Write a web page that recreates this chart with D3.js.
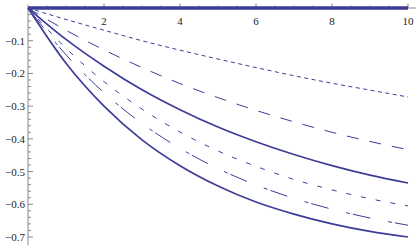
<!DOCTYPE html>
<html>
<head>
<meta charset="utf-8">
<script src="https://cdn.jsdelivr.net/npm/d3@7"></script>
<style>
  body { margin: 0; background: #fff; }
  svg { display: block; }
  text { font-family: "Liberation Serif", "DejaVu Serif", serif; font-size: 11px; fill: #222; }
</style>
</head>
<body>
<div id="chart"></div>
<script>
// donnees
const xs = [0, 1, 2, 3, 4, 5, 6, 7, 8, 9, 10];
const zeroLine = [0, 0, 0, 0, 0, 0, 0, 0, 0, 0, 0];
const shortDash = [0, -0.035, -0.068, -0.100, -0.129, -0.156, -0.182, -0.207, -0.230, -0.251, -0.272];
const longDash = [0, -0.068, -0.128, -0.182, -0.231, -0.274, -0.313, -0.348, -0.380, -0.408, -0.433];
const solidUpper = [0, -0.096, -0.178, -0.250, -0.311, -0.364, -0.409, -0.448, -0.482, -0.511, -0.535];
const dotted = [0, -0.123, -0.225, -0.309, -0.379, -0.437, -0.484, -0.524, -0.556, -0.583, -0.605];
const dashDot = [0, -0.143, -0.259, -0.353, -0.429, -0.491, -0.541, -0.582, -0.615, -0.642, -0.664];
const solidLower = [0, -0.169, -0.300, -0.403, -0.482, -0.544, -0.593, -0.630, -0.660, -0.683, -0.700];

const xMajor = [2, 4, 6, 8, 10];
const yMajor = [-0.1, -0.2, -0.3, -0.4, -0.5, -0.6, -0.7];
const yLabels = ["−0.1", "−0.2", "−0.3", "−0.4", "−0.5", "−0.6", "−0.7"];

const width = 417, height = 246;
const color = "#3d3d99";

const svg = d3.select("#chart").append("svg")
  .attr("width", width)
  .attr("height", height);

const x = d3.scaleLinear().domain([0, 10]).range([28, 408]);
const y = d3.scaleLinear().domain([0, -0.7]).range([8, 237]);

// axe x (en haut, y = 0)
svg.append("line")
  .attr("x1", x(0)).attr("x2", x(10.2))
  .attr("y1", y(0)).attr("y2", y(0))
  .attr("stroke", "#888").attr("stroke-width", 1);

svg.selectAll(".xminor")
  .data(d3.range(0.5, 10.01, 0.5))
  .enter().append("line")
  .attr("x1", d => x(d)).attr("x2", d => x(d))
  .attr("y1", y(0)).attr("y2", d => y(0) - (xMajor.includes(d) ? 4.5 : 2.5))
  .attr("stroke", "#888").attr("stroke-width", 1);

svg.selectAll(".xlab")
  .data(xMajor)
  .enter().append("text")
  .attr("x", d => x(d))
  .attr("y", 25)
  .attr("text-anchor", "middle")
  .text(d => d);

// axe y
svg.append("line")
  .attr("x1", x(0)).attr("x2", x(0))
  .attr("y1", y(0.01)).attr("y2", y(-0.725))
  .attr("stroke", "#888").attr("stroke-width", 1);

svg.selectAll(".yminor")
  .data(d3.range(1, 36).map(i => -i * 0.02))
  .enter().append("line")
  .attr("x1", x(0)).attr("x2", (d, i) => x(0) + ((i + 1) % 5 === 0 ? 5 : 3))
  .attr("y1", d => y(d)).attr("y2", d => y(d))
  .attr("stroke", "#888").attr("stroke-width", 1);

svg.selectAll(".ylab")
  .data(yMajor)
  .enter().append("text")
  .attr("x", 25)
  .attr("y", d => y(d) + 4)
  .attr("text-anchor", "end")
  .text((d, i) => yLabels[i]);

// courbes
const line = d3.line()
  .x((d, i) => x(xs[i]))
  .y(d => y(d))
  .curve(d3.curveMonotoneX);

const series = [
  { data: shortDash, w: 1, dash: "4,3.5" },
  { data: longDash, w: 1, dash: "12,11" },
  { data: solidUpper, w: 1.7, dash: null },
  { data: dotted, w: 1, dash: "5,10" },
  { data: dashDot, w: 1, dash: "4,3,18,18" },
  { data: solidLower, w: 1.7, dash: null },
  { data: zeroLine, w: 3.5, dash: null }
];

svg.selectAll(".curve")
  .data(series)
  .enter().append("path")
  .attr("d", d => line(d.data))
  .attr("fill", "none")
  .attr("stroke", color)
  .attr("stroke-width", d => d.w)
  .attr("stroke-dasharray", d => d.dash);
</script>
</body>
</html>
